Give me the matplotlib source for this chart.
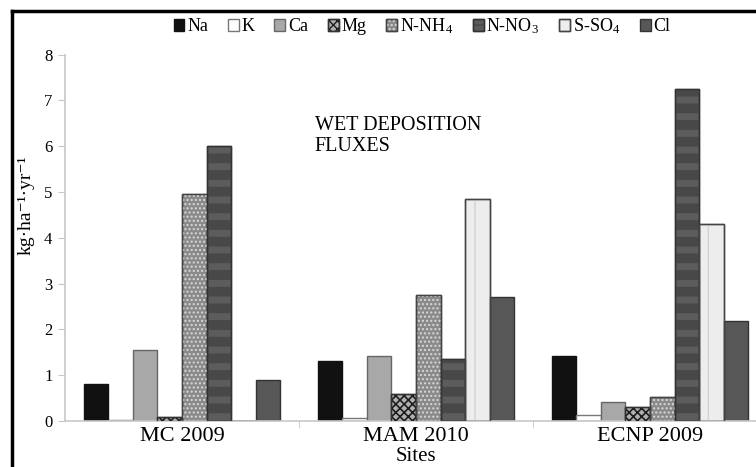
import numpy as np
import matplotlib as mpl
import matplotlib.pyplot as plt
from matplotlib.patches import Patch
from matplotlib.lines import Line2D
from matplotlib.legend_handler import HandlerTuple

plt.rcParams["font.family"] = ["Liberation Serif", "DejaVu Serif"]
plt.rcParams["mathtext.fontset"] = "custom"
plt.rcParams["mathtext.rm"] = "Liberation Serif"
plt.rcParams["mathtext.it"] = "Liberation Serif:italic"


# ----------------
# Values
sites = ["MC 2009", "MAM 2010", "ECNP 2009"]
ions = ["Na", "K", "Ca", "Mg", "N-NH$_4$", "N-NO$_3$", "S-SO$_4$", "Cl"]

na = [0.80, 1.30, 1.42]
k = [0.02, 0.07, 0.13]
ca = [1.55, 1.42, 0.42]
mg = [0.08, 0.60, 0.30]
nh4 = [4.95, 2.75, 0.53]
no3 = [6.00, 1.35, 7.25]
so4 = [0.00, 4.85, 4.30]
cl = [0.90, 2.70, 2.18]

series = [na, k, ca, mg, nh4, no3, so4, cl]

# face colour, edge colour, hatch, hatch colour, hatch line width
styles = [
    ("#111111", "#111111", None, None, 1.0),
    ("#ffffff", "#777777", None, None, 1.0),
    ("#a8a8a8", "#666666", None, None, 1.0),
    ("#b0b0b0", "#333333", "xxxx", "#1e1e1e", 1.2),
    ("#8a8a8a", "#444444", "....", "#d8d8d8", 1.0),
    ("#5c5c5c", "#333333", "-", "#484848", 7.0),
    ("#ededed", "#444444", "|", "#d2d2d2", 1.0),
    ("#575757", "#333333", None, None, 1.0),
]


# -------------
# Plot the bars
fig = plt.figure(figsize=(7.56, 4.67), dpi=100)
ax = fig.add_axes([65/756, 46/467, 702/756, 366.3/467])

x = np.arange(len(sites))
nb = len(series)
w = 0.105

handles = []
for i, (vals, st) in enumerate(zip(series, styles)):
    fc, ec, hatch, hc, hlw = st
    pos = x + (i - (nb - 1) / 2.0) * w
    ax.bar(pos, vals, w, color=fc, edgecolor=ec, linewidth=1.0, zorder=2)
    parts = [Patch(facecolor=fc, edgecolor=ec, linewidth=1.0)]
    if hatch is not None:
        with mpl.rc_context({"hatch.linewidth": hlw}):
            ax.bar(pos, vals, w, facecolor="none", edgecolor=hc, hatch=hatch,
                   linewidth=0, zorder=3)
            parts.append(Patch(facecolor="none", edgecolor=hc, hatch=hatch,
                               linewidth=0))
        ax.bar(pos, vals, w, facecolor="none", edgecolor=ec, linewidth=1.0,
               zorder=4)
        parts.append(Patch(facecolor="none", edgecolor=ec, linewidth=1.0))
    handles.append(tuple(parts))


# ----------
# Axes style
ax.set_xlim(-0.5, 2.5)
ax.set_ylim(0, 8)
ax.set_yticks(range(0, 9))
ax.set_xticks(x)
ax.set_xticklabels(sites, fontsize=16)
ax.set_xticks([0.5, 1.5], minor=True)
ax.tick_params(axis="x", which="major", length=0, pad=4)
ax.tick_params(axis="x", which="minor", length=5, color="#c8c8c8")
ax.tick_params(axis="y", length=5, color="#c8c8c8", labelsize=12, pad=4)

for s in ["top", "right"]:
    ax.spines[s].set_visible(False)
for s in ["left", "bottom"]:
    ax.spines[s].set_color("#c8c8c8")
    ax.spines[s].set_linewidth(1.2)

ax.set_xlabel("Sites", fontsize=15, labelpad=1)
ax.set_ylabel("kg\u00b7ha\u207b\u00b9\u00b7yr\u207b\u00b9", fontsize=14)
ax.yaxis.set_label_coords(-0.043, 0.59)

ax.text(0.356, 0.779, "WET DEPOSITION\nFLUXES", transform=ax.transAxes,
        fontsize=14.5, va="center", ha="left", linespacing=1.15)


# ------
# Legend
fig.legend(handles, ions, loc="center", bbox_to_anchor=(422/756, 1 - 26/467),
           ncol=8, frameon=False, fontsize=13,
           handler_map={tuple: HandlerTuple(ndivide=1, pad=0)},
           handlelength=0.6, handleheight=0.6, handletextpad=0.15,
           columnspacing=1.1, borderaxespad=0)


# -----------------
# The page frame
fig.add_artist(Line2D([12/756, 12/756], [0, 1 - 10.5/467], color="black",
                      linewidth=2.5, transform=fig.transFigure))
fig.add_artist(Line2D([12/756, 1], [1 - 10.5/467, 1 - 10.5/467],
                      color="black", linewidth=2.5, transform=fig.transFigure))

fig.savefig("out.png", dpi=100)
